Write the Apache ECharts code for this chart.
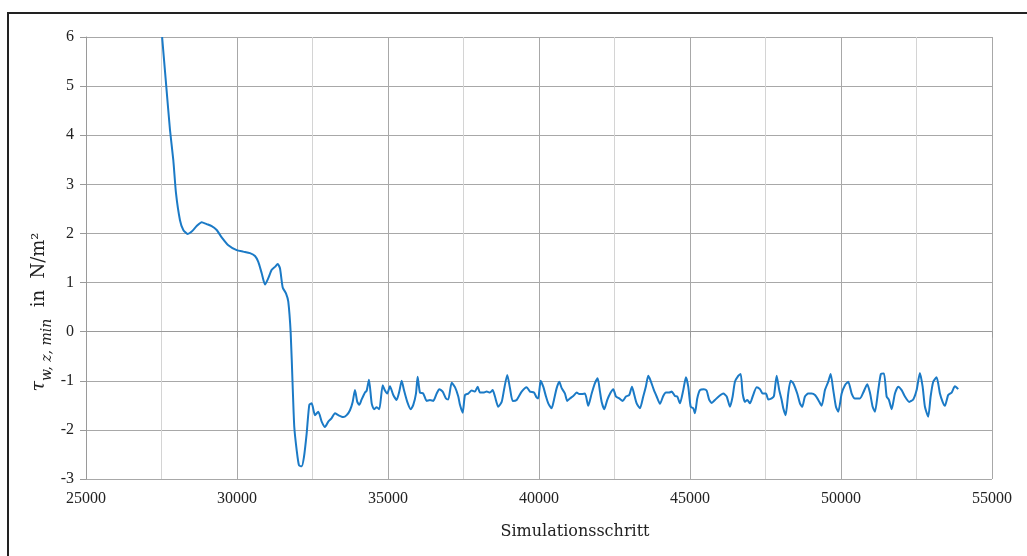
<!DOCTYPE html>
<html>
<head>
<meta charset="utf-8">
<title>Wandschubspannung</title>
<script src="https://cdn.jsdelivr.net/npm/echarts@6/dist/echarts.min.js"></script>
<style>
  html, body { margin: 0; padding: 0; background: #fff; }
  #chart { width: 1027px; height: 556px; }
</style>
</head>
<body>
<div id="chart"></div>
<script>
// Simulation step (x) and minimum wall shear stress tau_w,z,min in N/m^2 (y)
const steps = [
  27520, 27649, 27781, 27890, 27980, 28112, 28222, 28367, 28500, 28665,
  28831, 28997, 29162, 29328, 29493, 29712, 29990, 30208, 30430, 30596,
  30705, 30818, 30927, 31036, 31149, 31258, 31347, 31423, 31513, 31622,
  31698, 31778, 31844, 31897, 31976, 32052, 32142, 32218, 32307, 32394,
  32473, 32582, 32692, 32804, 32913, 33023, 33135,
  33245, 33354, 33519, 33632, 33741, 33830, 33906, 33983, 34049, 34128,
  34238, 34294, 34370, 34460, 34536, 34625, 34711, 34824, 34900, 34976,
  35065, 35175, 35287, 35374, 35453, 35529, 35638, 35751, 35837, 35926,
  35982, 36059, 36168, 36281, 36390, 36499, 36612, 36698, 36810, 36920,
  36996, 37109, 37218, 37327, 37383, 37472, 37549, 37658, 37770, 37880,
  37969, 38045, 38155, 38267, 38376, 38466, 38542, 38651, 38764, 38840,
  38949, 39039, 39128, 39260, 39426, 39591, 39701, 39833, 39922, 39975,
  40055, 40141, 40231, 40307, 40419, 40495, 40585, 40671, 40751, 40860,
  40936, 41025, 41135, 41247, 41333,
  41412, 41522, 41631, 41744, 41853, 41943, 42019, 42075, 42161, 42261,
  42373, 42459, 42548, 42657, 42770, 42879, 42988, 43078, 43144, 43233,
  43343, 43452, 43541, 43617, 43697, 43806, 43896, 44005, 44114, 44204,
  44313, 44393, 44502, 44578, 44667, 44777, 44866, 44942, 45022, 45108,
  45164, 45240, 45329, 45462, 45551, 45637, 45717, 45826, 45969, 46101,
  46214, 46323, 46412, 46488, 46598, 46678, 46744, 46820, 46897, 46985,
  47075, 47207, 47316, 47406, 47515, 47591, 47704, 47780, 47869, 47955,
  48035, 48088, 48167, 48253,
  48333, 48419, 48551, 48641, 48717, 48806, 48916, 49028, 49138, 49247,
  49360, 49469, 49578, 49658, 49744, 49833, 49909, 50022, 50131, 50240,
  50353, 50462, 50627, 50737, 50869, 50958, 51048, 51124, 51233, 51322,
  51422, 51511, 51587, 51677, 51786, 51895, 52008, 52117, 52259, 52392,
  52504, 52613, 52703, 52779, 52888, 52968, 53054, 53166, 53276, 53365,
  53441, 53550, 53663, 53772, 53881
];
const tauMin = [
  6.00, 5.06, 4.11, 3.50, 2.82, 2.27, 2.07, 1.99, 2.04, 2.15,
  2.23, 2.19, 2.15, 2.07, 1.92, 1.76, 1.66, 1.63, 1.60, 1.54,
  1.42, 1.19, 0.96, 1.09, 1.26, 1.32, 1.38, 1.29, 0.90, 0.78,
  0.61, -0.03, -1.12, -1.94, -2.41, -2.72, -2.74, -2.55, -2.07, -1.49,
  -1.46, -1.70, -1.63, -1.83, -1.94, -1.83, -1.76,
  -1.66, -1.70, -1.74, -1.70, -1.60, -1.43, -1.19, -1.43, -1.49, -1.38,
  -1.24, -1.20, -0.98, -1.46, -1.58, -1.54, -1.58, -1.09, -1.20, -1.26,
  -1.11, -1.29, -1.39, -1.22, -1.00, -1.19, -1.43, -1.58, -1.49, -1.26,
  -0.92, -1.24, -1.26, -1.41, -1.39, -1.41, -1.26, -1.17, -1.22, -1.36,
  -1.38, -1.04, -1.13, -1.32, -1.49, -1.65, -1.29, -1.26, -1.20, -1.22,
  -1.12, -1.24, -1.24, -1.22, -1.24, -1.19, -1.32, -1.53, -1.43, -1.19,
  -0.88, -1.15, -1.41, -1.39, -1.22, -1.13, -1.22, -1.24, -1.34, -1.36,
  -1.00, -1.12, -1.32, -1.46, -1.56, -1.39, -1.15, -1.02, -1.15, -1.26,
  -1.41, -1.36, -1.31, -1.24, -1.27,
  -1.27, -1.26, -1.51, -1.26, -1.05, -0.95, -1.22, -1.43, -1.58, -1.39,
  -1.24, -1.17, -1.32, -1.36, -1.41, -1.32, -1.29, -1.12, -1.26, -1.46,
  -1.56, -1.32, -1.11, -0.90, -1.00, -1.19, -1.32, -1.47, -1.31, -1.24,
  -1.24, -1.22, -1.31, -1.32, -1.46, -1.19, -0.93, -1.12, -1.53, -1.56,
  -1.66, -1.36, -1.19, -1.17, -1.20, -1.39, -1.45, -1.39, -1.31, -1.26,
  -1.32, -1.53, -1.32, -1.02, -0.90, -0.86, -1.26, -1.43, -1.39, -1.46,
  -1.32, -1.13, -1.17, -1.26, -1.26, -1.38, -1.36, -1.31, -0.90, -1.19,
  -1.39, -1.56, -1.70, -1.26,
  -1.00, -1.05, -1.26, -1.46, -1.53, -1.32, -1.26, -1.26, -1.29, -1.39,
  -1.51, -1.19, -1.02, -0.86, -1.19, -1.53, -1.63, -1.26, -1.09, -1.02,
  -1.26, -1.36, -1.36, -1.24, -1.07, -1.24, -1.53, -1.63, -1.19, -0.86,
  -0.85, -1.32, -1.39, -1.58, -1.26, -1.12, -1.19, -1.32, -1.43, -1.38,
  -1.19, -0.84, -1.12, -1.53, -1.73, -1.32, -1.02, -0.93, -1.26, -1.43,
  -1.51, -1.29, -1.24, -1.11, -1.17
];

const xTicks = { min: 25000, max: 55000, step: 5000 };
const yTicks = { min: -3, max: 6, step: 1 };

const serif = '"Liberation Serif", "DejaVu Serif", serif';
const titleSerif = '"DejaVu Serif", "Liberation Serif", serif';

const chart = echarts.init(document.getElementById('chart'), null, { renderer: 'canvas' });

chart.setOption({
  animation: false,
  backgroundColor: '#ffffff',
  grid: { left: 86, right: 35, top: 37, bottom: 77, containLabel: false },
  xAxis: {
    type: 'value',
    min: xTicks.min,
    max: xTicks.max,
    interval: xTicks.step,
    axisLine: { show: true, lineStyle: { color: '#9a9a9a', width: 1 } },
    axisTick: { show: true, length: 6, lineStyle: { color: '#9a9a9a' } },
    axisLabel: {
      color: '#222', fontFamily: serif, fontSize: 16, margin: 12,
      formatter: (v) => String(v)
    },
    splitLine: { show: true, lineStyle: { color: '#a8a8a8', width: 1 } },
    minorTick: { show: false, splitNumber: 2 },
    minorSplitLine: { show: true, lineStyle: { color: '#d4d4d4', width: 1 } }
  },
  yAxis: {
    type: 'value',
    min: yTicks.min,
    max: yTicks.max,
    interval: yTicks.step,
    axisLine: { show: true, lineStyle: { color: '#9a9a9a', width: 1 } },
    axisTick: { show: true, length: 6, lineStyle: { color: '#9a9a9a' } },
    axisLabel: {
      color: '#222', fontFamily: serif, fontSize: 16, margin: 12,
      formatter: (v) => String(v)
    },
    splitLine: { show: true, lineStyle: { color: '#a8a8a8', width: 1 } }
  },
  graphic: [
    {
      type: 'rect',
      silent: true,
      shape: { x: 8, y: 13, width: 1200, height: 700 },
      style: { fill: 'none', stroke: '#222', lineWidth: 2 }
    },
    {
      type: 'text',
      silent: true,
      x: 575,
      y: 532,
      style: {
        text: 'Simulationsschritt',
        font: '16px ' + titleSerif,
        fill: '#222',
        align: 'center',
        verticalAlign: 'middle'
      }
    },
    {
      type: 'text',
      silent: true,
      x: 42,
      y: 312,
      rotation: Math.PI / 2,
      style: {
        text: '{tau|τ}{sub|w, z, min}{n|  in  N/m²}',
        fill: '#222',
        align: 'center',
        verticalAlign: 'middle',
        rich: {
          tau: { fontFamily: titleSerif, fontStyle: 'italic', fontSize: 19, fill: '#222', verticalAlign: 'top', lineHeight: 24 },
          sub: { fontFamily: titleSerif, fontStyle: 'italic', fontSize: 14, fill: '#222', verticalAlign: 'bottom', lineHeight: 24 },
          n: { fontFamily: titleSerif, fontSize: 18, fill: '#222', verticalAlign: 'top', lineHeight: 24 }
        }
      }
    }
  ],
  series: [
    {
      type: 'line',
      data: steps.map((s, i) => [s, tauMin[i]]),
      showSymbol: false,
      smooth: 0.2,
      clip: true,
      lineStyle: { color: '#1b7ac6', width: 2 },
      z: 5
    }
  ]
});
</script>
</body>
</html>
